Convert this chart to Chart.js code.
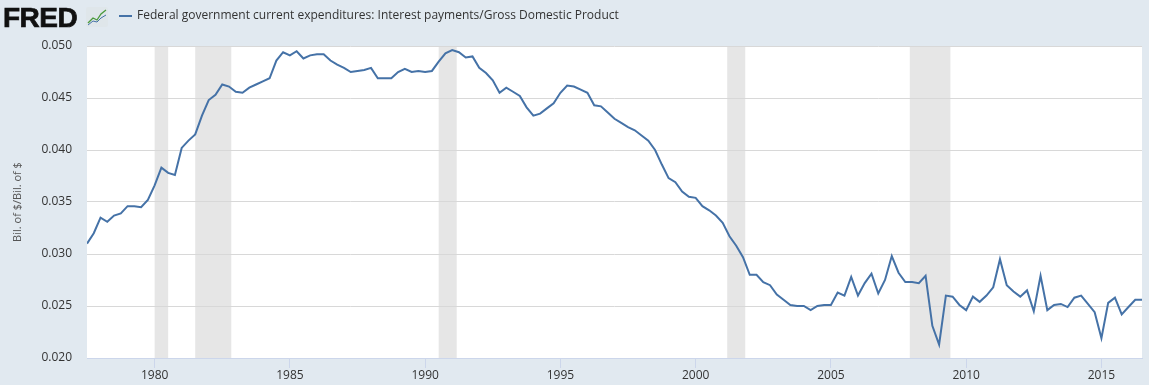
<!DOCTYPE html>
<html>
<head>
<meta charset="utf-8">
<title>Federal government current expenditures: Interest payments/Gross Domestic Product</title>
<script src="https://cdn.jsdelivr.net/npm/chart.js@4.4.1/dist/chart.umd.min.js"></script>
<style>
    body { margin: 0; background: #e1e9f0; font-family: "Open Sans", sans-serif; }
    #wrap { position: relative; width: 1149px; height: 385px; }
    #chart { position: absolute; left: 0; top: 0; }
    .logo { position: absolute; left: 3px; top: 2px; font: bold 28px "Liberation Sans", Arial, sans-serif; color: #111; letter-spacing: -0.5px; -webkit-text-stroke: 0.7px #111; }
    .logo-icon { position: absolute; left: 86px; top: 7px; }
    .legend-line { position: absolute; left: 119px; top: 15px; width: 13px; height: 2px; background: #4572a7; }
    .legend-text { position: absolute; left: 137px; top: 7px; font-size: 12px; line-height: 16px; color: #333; white-space: nowrap; }
</style>
</head>
<body>
<div id="wrap">
    <canvas id="chart" width="1149" height="385"></canvas>
    <div class="logo">FRED</div>
    <svg class="logo-icon" width="22" height="20" viewBox="0 0 22 20">
        <rect x="0" y="0" width="22" height="20" rx="2" fill="#dfe6ea"/>
        <polyline points="2,16 7,11 11,13 15,7 20,3" fill="none" stroke="#4a9a3c" stroke-width="1.3"/>
        <polyline points="2,18 7,14 11,15 15,11 20,8" fill="none" stroke="#4572a7" stroke-width="1"/>
    </svg>
    <div class="legend-line"></div>
    <div class="legend-text">Federal government current expenditures: Interest payments/Gross Domestic Product</div>
</div>
<script>
// Série trimestrielle, premier point = 1977 T3
const startYear = 1977;
const startQuarter = 3;

const interestToGdp = [
    0.0310, 0.0320, 0.0335, 0.0331, 0.0337, 0.0339, 0.0346, 0.0346, 0.0345, 0.0352,
    0.0366, 0.0383, 0.0378, 0.0376, 0.0402, 0.0409, 0.0415, 0.0433, 0.0448, 0.0453,
    0.0463, 0.0461, 0.0456, 0.0455, 0.0460, 0.0463, 0.0466, 0.0469, 0.0486, 0.0494,
    0.0491, 0.0495, 0.0488, 0.0491, 0.0492, 0.0492, 0.0486, 0.0482, 0.0479, 0.0475,
    0.0476, 0.0477, 0.0479, 0.0469, 0.0469, 0.0469, 0.0475, 0.0478, 0.0475, 0.0476,
    0.0475, 0.0476, 0.0485, 0.0493, 0.0496, 0.0494, 0.0489, 0.0490, 0.0479, 0.0474,
    0.0467, 0.0455, 0.0460, 0.0456, 0.0452, 0.0441, 0.0433, 0.0435, 0.0440, 0.0445,
    0.0455, 0.0462, 0.0461, 0.0458, 0.0455, 0.0443, 0.0442, 0.0436, 0.0430, 0.0426,
    0.0422, 0.0419, 0.0414, 0.0409, 0.0400, 0.0386, 0.0373, 0.0369, 0.0360, 0.0355,
    0.0354, 0.0346, 0.0342, 0.0337, 0.0330, 0.0317, 0.0308, 0.0297, 0.0280, 0.0280,
    0.0273, 0.0270, 0.0261, 0.0256, 0.0251, 0.0250, 0.0250, 0.0246, 0.0250, 0.0251,
    0.0251, 0.0263, 0.0260, 0.0278, 0.0260, 0.0272, 0.0281, 0.0262, 0.0275, 0.0298,
    0.0282, 0.0273, 0.0273, 0.0272, 0.0279, 0.0231, 0.0213, 0.0260, 0.0259, 0.0251,
    0.0246, 0.0259, 0.0254, 0.0260, 0.0268, 0.0295, 0.0270, 0.0264, 0.0259, 0.0265,
    0.0245, 0.0279, 0.0246, 0.0251, 0.0252, 0.0249, 0.0258, 0.0260, 0.0252, 0.0244,
    0.0219, 0.0253, 0.0258, 0.0242, 0.0249, 0.0256, 0.0256
];

// Récessions (début, fin) en mois
const recessions = [
    ['1980-01', '1980-07'],
    ['1981-07', '1982-11'],
    ['1990-07', '1991-03'],
    ['2001-03', '2001-11'],
    ['2007-12', '2009-06']
];

const xTickYears = [1980, 1985, 1990, 1995, 2000, 2005, 2010, 2015];
const yTicks = [0.020, 0.025, 0.030, 0.035, 0.040, 0.045, 0.050];

function monthToYear(str) {
    const [y, m] = str.split('-').map(Number);
    return y + (m - 1) / 12;
}

function quarterToYear(index) {
    const q = startQuarter - 1 + index;
    return startYear + Math.floor(q / 4) + (q % 4) / 4;
}

const points = interestToGdp.map((v, i) => ({ x: quarterToYear(i), y: v }));

// Fond blanc de la zone de tracé + bandes de récession
const plotBackground = {
    id: 'plotBackground',
    beforeDraw(chart) {
        const { ctx, chartArea: a, scales: { x } } = chart;
        ctx.save();
        ctx.fillStyle = '#ffffff';
        ctx.fillRect(a.left, a.top, a.right - a.left, a.bottom - a.top);
        ctx.fillStyle = '#e6e6e6';
        recessions.forEach(([s, e]) => {
            const x1 = Math.max(x.getPixelForValue(monthToYear(s)), a.left);
            const x2 = Math.min(x.getPixelForValue(monthToYear(e)), a.right);
            ctx.fillRect(x1, a.top, x2 - x1, a.bottom - a.top);
        });
        ctx.restore();
    }
};

const ctx = document.getElementById('chart').getContext('2d');
new Chart(ctx, {
    type: 'line',
    data: {
        datasets: [{
            label: 'Federal government current expenditures: Interest payments/Gross Domestic Product',
            data: points,
            borderColor: '#4572a7',
            borderWidth: 2,
            pointRadius: 0,
            tension: 0,
            fill: false
        }]
    },
    options: {
        responsive: false,
        animation: false,
        layout: { padding: { top: 46, right: 7, left: 0, bottom: 0 } },
        plugins: {
            legend: { display: false },
            tooltip: { enabled: false }
        },
        scales: {
            x: {
                type: 'linear',
                min: quarterToYear(0),
                max: quarterToYear(interestToGdp.length - 1),
                afterBuildTicks: axis => { axis.ticks = xTickYears.map(v => ({ value: v })); },
                afterFit: scale => { scale.height = 27; },
                grid: { drawOnChartArea: false, drawTicks: true, tickLength: 10, color: '#ccd6eb' },
                border: { color: '#ccd6eb', width: 1 },
                ticks: {
                    padding: 0,
                    maxRotation: 0,
                    color: '#333333',
                    font: { family: "'Open Sans', sans-serif", size: 12 },
                    callback: v => String(v)
                }
            },
            y: {
                min: 0.020,
                max: 0.050,
                afterBuildTicks: axis => { axis.ticks = yTicks.map(v => ({ value: v })); },
                afterFit: scale => { scale.width = 87; },
                grid: { color: '#d8d8d8', drawTicks: false },
                border: { display: false },
                ticks: {
                    padding: 15,
                    color: '#333333',
                    font: { family: "'Open Sans', sans-serif", size: 12 },
                    callback: v => v.toFixed(3)
                },
                title: {
                    display: true,
                    text: 'Bil. of $/Bil. of $',
                    color: '#555555',
                    padding: { top: 11, bottom: 0 },
                    font: { family: "'Open Sans', sans-serif", size: 11 }
                }
            }
        }
    },
    plugins: [plotBackground]
});
</script>
</body>
</html>
